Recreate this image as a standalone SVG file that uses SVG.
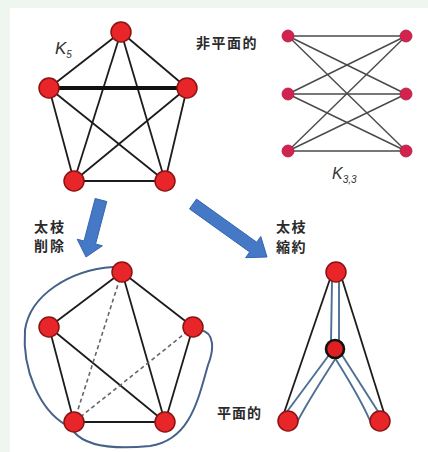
<svg xmlns="http://www.w3.org/2000/svg" width="428" height="452" viewBox="0 0 428 452">
<style>
.e{stroke:#1c1c1c;stroke-width:1.8;fill:none}
.thick{stroke:#111;stroke-width:4}
.k33e{stroke:#4a4a4a;stroke-width:1.4}
.dash{stroke:#666;stroke-width:1.6;stroke-dasharray:4 3}
.blue{stroke:#4d6f96;stroke-width:1.9;fill:none}
.outer{stroke:#46618a;stroke-width:2;fill:none}
.n{fill:#e8262a;stroke:#8c1212;stroke-width:1.5}
.n2{fill:#d2224e;stroke:#b01a40;stroke-width:0.8}
.nm{fill:#e01f22;stroke:#111;stroke-width:2.6}
.arrow{fill:#4579c6;stroke:#3566ae;stroke-width:1}
.cjk{font-family:"Noto Sans CJK JP","Noto Sans CJK SC",sans-serif;font-size:14px;font-weight:bold;fill:#2a2a2a}
.lab{font-family:"Liberation Sans",Arial,sans-serif;font-style:italic;fill:#333}
</style>
<rect x="0" y="0" width="428" height="452" fill="#eef6ef"/>
<rect x="10" y="8" width="418" height="444" fill="#ffffff"/>

<g id="connectors">
  <!-- K5 -->
  <line class="e" x1="121" y1="32" x2="49" y2="88"/>
  <line class="e" x1="121" y1="32" x2="187" y2="88"/>
  <line class="e" x1="121" y1="32" x2="74" y2="181"/>
  <line class="e" x1="121" y1="32" x2="165" y2="181"/>
  <line class="e thick" x1="49" y1="88" x2="187" y2="88"/>
  <line class="e" x1="49" y1="88" x2="74" y2="181"/>
  <line class="e" x1="49" y1="88" x2="165" y2="181"/>
  <line class="e" x1="187" y1="88" x2="74" y2="181"/>
  <line class="e" x1="187" y1="88" x2="165" y2="181"/>
  <line class="e" x1="74" y1="181" x2="165" y2="181"/>
  <!-- K3,3 -->
  <line class="k33e" x1="288" y1="36" x2="406" y2="36"/>
  <line class="k33e" x1="288" y1="36" x2="406" y2="94"/>
  <line class="k33e" x1="288" y1="36" x2="406" y2="151"/>
  <line class="k33e" x1="288" y1="94" x2="406" y2="36"/>
  <line class="k33e" x1="288" y1="94" x2="406" y2="94"/>
  <line class="k33e" x1="288" y1="94" x2="406" y2="151"/>
  <line class="k33e" x1="288" y1="151" x2="406" y2="36"/>
  <line class="k33e" x1="288" y1="151" x2="406" y2="94"/>
  <line class="k33e" x1="288" y1="151" x2="406" y2="151"/>
  <!-- arrows -->
  <polygon class="arrow" points="95.2,198.5 106.8,201.5 95.6,244 102.4,245.8 86,257 77.2,239.2 84,241"/>
  <polygon class="arrow" points="196.5,199.1 256.7,242.2 260.8,236.5 267,257 245.6,257.7 249.7,252 189.5,208.9"/>
  <!-- deletion graph -->
  <path class="outer" d="M113,267 C70,270 30,295 25,330 C22,370 40,410 66,425"/>
  <path class="outer" d="M200,330 C215,332 214,350 208,365 C198,400 190,440 150,446 C110,450 85,445 74,432"/>
  <line class="e" x1="122" y1="272" x2="49" y2="327"/>
  <line class="e" x1="122" y1="272" x2="193" y2="327"/>
  <line class="e" x1="122" y1="272" x2="165" y2="422"/>
  <line class="e" x1="49" y1="327" x2="165" y2="422"/>
  <line class="e" x1="49" y1="327" x2="74" y2="422"/>
  <line class="e" x1="193" y1="327" x2="165" y2="422"/>
  <line class="e" x1="74" y1="422" x2="165" y2="422"/>
  <line class="dash" x1="122" y1="272" x2="74" y2="422"/>
  <line class="dash" x1="193" y1="327" x2="74" y2="422"/>
  <!-- contraction graph -->
  <line class="e" x1="330" y1="279" x2="284" y2="413"/>
  <line class="e" x1="342" y1="279" x2="384" y2="413"/>
  <line class="blue" x1="332" y1="281" x2="331" y2="342"/>
  <line class="blue" x1="339" y1="281" x2="339" y2="342"/>
  <path class="blue" d="M329,355 L286,413"/>
  <path class="blue" d="M336,358 Q306,404 294,428"/>
  <path class="blue" d="M342,355 L379,413"/>
  <path class="blue" d="M335,358 Q364,404 373,428"/>
</g>

<g id="k5-nodes">
  <circle class="n" cx="121" cy="32" r="10"/>
  <circle class="n" cx="49" cy="88" r="10"/>
  <circle class="n" cx="187" cy="88" r="10"/>
  <circle class="n" cx="74" cy="181" r="10"/>
  <circle class="n" cx="165" cy="181" r="10"/>
</g>
<g id="k5-label"><text class="lab" x="55" y="54" font-size="17">K<tspan font-size="10" dy="4">5</tspan></text></g>
<g id="nonplanar-label"><text class="cjk" x="196" y="48" letter-spacing="1.5">非平面的</text></g>

<g id="k33-nodes">
  <circle class="n2" cx="288" cy="36" r="6"/>
  <circle class="n2" cx="288" cy="94" r="6"/>
  <circle class="n2" cx="288" cy="151" r="6"/>
  <circle class="n2" cx="406" cy="36" r="6"/>
  <circle class="n2" cx="406" cy="94" r="6"/>
  <circle class="n2" cx="406" cy="151" r="6"/>
</g>
<g id="k33-label"><text class="lab" x="332" y="179" font-size="16">K<tspan font-size="10" dy="4">3,3</tspan></text></g>

<g id="delete-label">
  <text class="cjk" x="34" y="232" letter-spacing="2">太枝</text>
  <text class="cjk" x="34" y="251" letter-spacing="2">削除</text>
</g>
<g id="contract-label">
  <text class="cjk" x="276" y="232" letter-spacing="1.5">太枝</text>
  <text class="cjk" x="276" y="252" letter-spacing="1.5">縮約</text>
</g>

<g id="deleted-nodes">
  <circle class="n" cx="122" cy="272" r="10"/>
  <circle class="n" cx="49" cy="327" r="10"/>
  <circle class="n" cx="193" cy="327" r="10"/>
  <circle class="n" cx="74" cy="422" r="10"/>
  <circle class="n" cx="165" cy="422" r="10"/>
</g>

<g id="contracted-nodes">
  <circle class="n" cx="336" cy="272" r="10"/>
  <circle class="nm" cx="335" cy="349" r="9"/>
  <circle class="n" cx="288" cy="421" r="10"/>
  <circle class="n" cx="380" cy="421" r="10"/>
</g>
<g id="planar-label"><text class="cjk" x="217" y="418" letter-spacing="1">平面的</text></g>
</svg>
